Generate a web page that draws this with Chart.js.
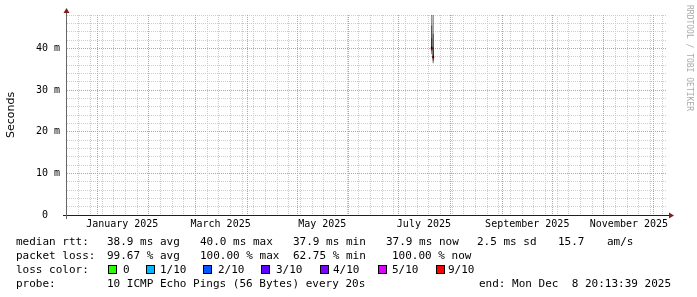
<!DOCTYPE html>
<html>
<head>
<meta charset="utf-8">
<title>Smokeping</title>
<script src="https://cdn.jsdelivr.net/npm/chart.js@4.4.1/dist/chart.umd.min.js"></script>
<style>
  html, body { margin: 0; padding: 0; background: #fff; }
</style>
</head>
<body>
<canvas id="grafico" width="697" height="297"></canvas>
<script>
// Time window: 360 days ending at the "end:" time
const DIA = 86400000;
const fechaFin = Date.UTC(2025, 11, 8, 20, 13, 39);
const fechaInicio = fechaFin - 360 * DIA;

// The two time slots that have samples, with their sorted rtts (ms)
const slotTimes = ['2025-07-20T16:00:00Z', '2025-07-21T13:30:00Z'];
const pingsSlot1 = [38.6, 39.3, 39.7, 39.9, 40.0, 40.0, 40.6, 42.5, 45.5, 49.5];
const pingsSlot2 = [36.4, 36.9, 37.3, 37.6, 37.8, 38.0, 38.6, 40.2, 43.5, 48.5];
const medians = [40.0, 37.9];
const medianLoss = ['9/10', '9/10'];

// Axis labels
const monthLabels = ['January 2025', 'March 2025', 'May 2025', 'July 2025', 'September 2025', 'November 2025'];
const monthLabelDates = ['2025-01-16', '2025-03-16', '2025-05-16', '2025-07-16', '2025-09-16', '2025-11-16'];
const yMajorTicks = [0, 10, 20, 30, 40];
const yTickLabels = ['0  ', '10 m', '20 m', '30 m', '40 m'];

// Legend texts
const rowTitles = ['median rtt:', 'packet loss:', 'loss color:', 'probe:'];
const rttStats = ['38.9 ms avg', '40.0 ms max', '37.9 ms min', '37.9 ms now', '2.5 ms sd', '15.7', 'am/s'];
const lossStats = ['99.67 % avg', '100.00 % max', '62.75 % min', '100.00 % now'];
const lossLabels = ['0', '1/10', '2/10', '3/10', '4/10', '5/10', '9/10'];
const lossColors = ['#26ff00', '#00b8ff', '#0059ff', '#5e00ff', '#7e00ff', '#dd00ff', '#ff0000'];
const probeText = '10 ICMP Echo Pings (56 Bytes) every 20s';
const endText = 'end: Mon Dec  8 20:13:39 2025';

const GRID = 'rgb(205,205,205)';
const MGRID = 'rgb(236,140,140)';
const MONO = '"DejaVu Sans Mono", monospace';

// Ticks for the time axis: weekly grey lines, monthly red lines, labels mid month
function construirTicksX() {
    const ticks = [];
    for (let t = Date.UTC(2024, 11, 21); t < fechaFin; t += 7 * DIA) {
        ticks.push({ value: t, tipo: 'semana' });
    }
    for (let m = 0; m < 12; m++) {
        ticks.push({ value: Date.UTC(2025, m, 1), tipo: 'mes' });
    }
    monthLabelDates.forEach((d, i) => {
        ticks.push({ value: Date.parse(d + 'T00:00:00Z'), tipo: 'etiqueta', texto: monthLabels[i] });
    });
    ticks.sort((a, b) => a.value - b.value);
    return ticks;
}

// Smoke bands: pairs of sorted pings, outer to inner
function bandasHumo() {
    const t1 = Date.parse(slotTimes[0]);
    const t2 = Date.parse(slotTimes[1]);
    const ds = [];
    for (let i = 0; i < 5; i++) {
        ds.push({
            type: 'bar',
            data: [
                { x: t1, y: [pingsSlot1[i], pingsSlot1[9 - i]] },
                { x: t2, y: [pingsSlot2[i], pingsSlot2[9 - i]] }
            ],
            backgroundColor: 'rgba(0,0,0,0.5)',
            borderWidth: 0,
            grouped: false,
            maxBarThickness: 1.5,
            inflateAmount: 0
        });
    }
    return ds;
}

const datasets = bandasHumo();
datasets.push({
    type: 'scatter',
    data: slotTimes.map((t, i) => ({ x: Date.parse(t), y: medians[i] })),
    pointStyle: 'rect',
    pointRadius: 1.4,
    pointBorderWidth: 0,
    pointBackgroundColor: medianLoss.map(l => lossColors[lossLabels.indexOf(l)])
});

// Dotted grid, one pixel dots, placed with the chart scales
const rejilla = {
    id: 'rejilla',
    beforeDatasetsDraw(chart) {
        const ctx = chart.ctx;
        const a = chart.chartArea;
        const sx = chart.scales.x;
        const sy = chart.scales.y;
        ctx.save();
        sy.ticks.forEach(t => {
            const y = Math.round(sy.getPixelForValue(t.value) - 0.5);
            ctx.fillStyle = t.value % 10 === 0 ? MGRID : GRID;
            for (let x = a.left; x < a.right; x += 2) ctx.fillRect(x, y, 1, 1);
        });
        sx.ticks.forEach(t => {
            if (t.tipo === 'etiqueta') return;
            const x = Math.round(sx.getPixelForValue(t.value) - 0.5);
            ctx.fillStyle = t.tipo === 'mes' ? MGRID : GRID;
            for (let y = a.top; y < a.bottom; y += 2) ctx.fillRect(x, y, 1, 1);
        });
        ctx.restore();
    }
};

// Axes, arrows, legend text and the side watermark
const marco = {
    id: 'marco',
    afterDraw(chart) {
        const ctx = chart.ctx;
        const a = chart.chartArea;
        ctx.save();
        // axis lines
        ctx.lineWidth = 1;
        ctx.strokeStyle = '#1f1f1f';
        ctx.beginPath();
        ctx.moveTo(a.left - 4, a.bottom + 0.5);
        ctx.lineTo(a.right + 4, a.bottom + 0.5);
        ctx.stroke();
        ctx.strokeStyle = '#666';
        ctx.beginPath();
        ctx.moveTo(a.left - 0.5, a.bottom + 4);
        ctx.lineTo(a.left - 0.5, a.top - 4);
        ctx.stroke();
        // arrows
        ctx.fillStyle = '#801f1f';
        ctx.beginPath();
        ctx.moveTo(a.right + 2, a.bottom - 2.5);
        ctx.lineTo(a.right + 2, a.bottom + 3.5);
        ctx.lineTo(a.right + 7, a.bottom + 0.5);
        ctx.closePath();
        ctx.fill();
        ctx.beginPath();
        ctx.moveTo(a.left - 3.5, a.top - 2);
        ctx.lineTo(a.left + 2.5, a.top - 2);
        ctx.lineTo(a.left - 0.5, a.top - 7);
        ctx.closePath();
        ctx.fill();

        // legend
        ctx.font = '11px ' + MONO;
        ctx.fillStyle = '#000';
        ctx.textBaseline = 'alphabetic';
        ctx.textAlign = 'left';
        const filas = [245, 259, 273, 287];
        rowTitles.forEach((t, i) => ctx.fillText(t, 16, filas[i]));
        const rttX = [107, 200, 293, 386, 477, 558, 607];
        rttStats.forEach((s, i) => ctx.fillText(s, rttX[i], filas[0]));
        const lossX = [107, 200, 293, 392];
        lossStats.forEach((s, i) => ctx.fillText(s, lossX[i], filas[1]));
        const cajaX = [108, 146, 203, 261, 320, 378, 436];
        const textoX = [123, 160, 218, 276, 333, 392, 448];
        lossLabels.forEach((l, i) => {
            ctx.fillStyle = '#000';
            ctx.fillRect(cajaX[i], 265, 9, 9);
            ctx.fillStyle = lossColors[i];
            ctx.fillRect(cajaX[i] + 1, 266, 7, 7);
            ctx.fillStyle = '#000';
            ctx.fillText(l, textoX[i], filas[2]);
        });
        ctx.fillText(probeText, 107, filas[3]);
        ctx.fillText(endText, 479, filas[3]);

        // watermark
        ctx.translate(689, 5);
        ctx.rotate(Math.PI / 2);
        ctx.font = '8px ' + MONO;
        ctx.fillStyle = '#aaa';
        ctx.textBaseline = 'middle';
        ctx.fillText('RRDTOOL / TOBI OETIKER', 0, 0);
        ctx.restore();
    }
};

new Chart(document.getElementById('grafico').getContext('2d'), {
    type: 'bar',
    data: { datasets: datasets },
    plugins: [rejilla, marco],
    options: {
        responsive: false,
        animation: false,
        devicePixelRatio: 1,
        layout: { padding: { top: 15, right: 30, left: 0, bottom: 0 } },
        plugins: { legend: { display: false }, tooltip: { enabled: false } },
        scales: {
            x: {
                type: 'linear',
                min: fechaInicio,
                max: fechaFin,
                offset: false,
                afterBuildTicks: s => { s.ticks = construirTicksX(); },
                afterFit: s => { s.height = 82; },
                grid: { display: false, offset: false, drawTicks: false },
                border: { display: false },
                ticks: {
                    autoSkip: false,
                    maxRotation: 0,
                    minRotation: 0,
                    padding: 3,
                    color: '#000',
                    font: { family: MONO, size: 10 },
                    callback: (v, i, ticks) => ticks[i].texto || ''
                }
            },
            y: {
                type: 'linear',
                min: 0,
                max: 48,
                afterBuildTicks: s => {
                    const t = [];
                    for (let v = 0; v <= 48; v += 2) t.push({ value: v });
                    s.ticks = t;
                },
                afterFit: s => { s.width = 67; },
                grid: { display: false, drawTicks: false },
                border: { display: false },
                ticks: {
                    autoSkip: false,
                    padding: 7,
                    color: '#000',
                    font: { family: MONO, size: 10 },
                    callback: v => {
                        const i = yMajorTicks.indexOf(v);
                        return i >= 0 ? yTickLabels[i] : '';
                    }
                },
                title: {
                    display: true,
                    text: 'Seconds',
                    color: '#000',
                    font: { family: '"DejaVu Sans", sans-serif', size: 11 },
                    padding: { top: 5, bottom: 0 }
                }
            }
        }
    }
});
</script>
</body>
</html>
